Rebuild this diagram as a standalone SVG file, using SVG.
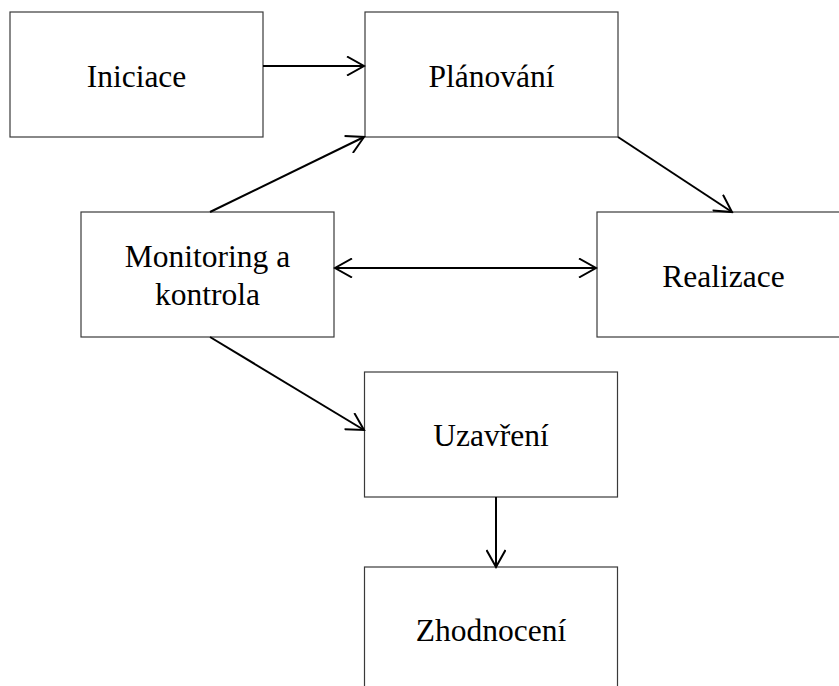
<svg xmlns="http://www.w3.org/2000/svg" width="839" height="686" viewBox="0 0 839 686">
  <style>
    .box { fill: #ffffff; stroke: #3a3a3a; stroke-width: 1.2; }
    .lbl { font-family: "Liberation Serif", "Times New Roman", serif; font-size: 31.5px; fill: #000000; text-anchor: middle; }
    .edge { fill: none; stroke: #000000; stroke-width: 2; }
  </style>
  <defs>
    <marker id="arrowEnd" viewBox="0 0 20 20" refX="18" refY="10" markerWidth="20" markerHeight="20" markerUnits="userSpaceOnUse" orient="auto">
      <path d="M1,0.5 L18,10 L1,19.5" fill="none" stroke="#000000" stroke-width="2"/>
    </marker>
    <marker id="arrowStart" viewBox="0 0 20 20" refX="2" refY="10" markerWidth="20" markerHeight="20" markerUnits="userSpaceOnUse" orient="auto">
      <path d="M19,0.5 L2,10 L19,19.5" fill="none" stroke="#000000" stroke-width="2"/>
    </marker>
  </defs>
  <rect width="839" height="686" fill="#ffffff"/>

  <g id="iniciace">
    <rect class="box" x="10" y="12" width="253" height="125"/>
    <text class="lbl" x="136.5" y="87">Iniciace</text>
  </g>
  <g id="planovani">
    <rect class="box" x="365" y="12" width="253" height="125"/>
    <text class="lbl" x="491.5" y="87">Plánování</text>
  </g>
  <g id="monitoring">
    <rect class="box" x="81" y="212" width="253" height="125"/>
    <text class="lbl" x="207.5" y="267">Monitoring a</text>
    <text class="lbl" x="207.5" y="305">kontrola</text>
  </g>
  <g id="realizace">
    <rect class="box" x="597" y="212" width="253" height="125"/>
    <text class="lbl" x="723.5" y="287">Realizace</text>
  </g>
  <g id="uzavreni">
    <rect class="box" x="364.5" y="372" width="253" height="125"/>
    <text class="lbl" x="491" y="446">Uzavření</text>
  </g>
  <g id="zhodnoceni">
    <rect class="box" x="364.5" y="567" width="253" height="125"/>
    <text class="lbl" x="491" y="641">Zhodnocení</text>
  </g>

  <g id="connectors">
    <line class="edge" x1="263" y1="66" x2="364" y2="66" marker-end="url(#arrowEnd)"/>
    <line class="edge" x1="210" y1="212" x2="364" y2="137" marker-end="url(#arrowEnd)"/>
    <line class="edge" x1="618" y1="137" x2="732" y2="212" marker-end="url(#arrowEnd)"/>
    <line class="edge" x1="335" y1="268" x2="596" y2="268" marker-start="url(#arrowStart)" marker-end="url(#arrowEnd)"/>
    <line class="edge" x1="210" y1="337" x2="364" y2="430" marker-end="url(#arrowEnd)"/>
    <line class="edge" x1="496" y1="497" x2="496" y2="567" marker-end="url(#arrowEnd)"/>
  </g>
</svg>
